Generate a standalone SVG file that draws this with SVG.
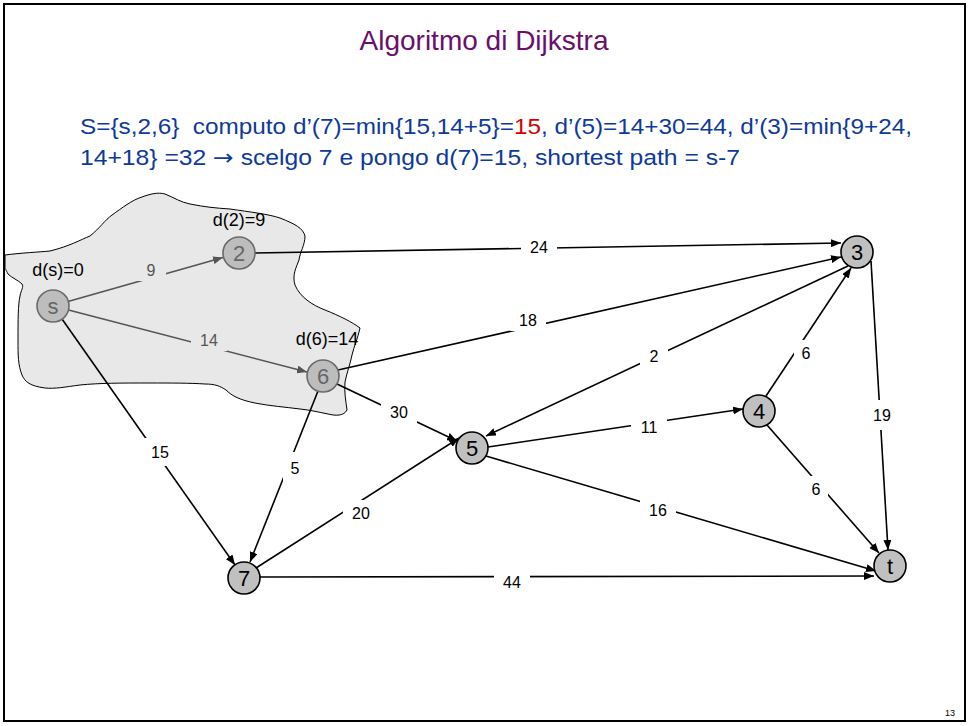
<svg xmlns="http://www.w3.org/2000/svg" width="969" height="726" viewBox="0 0 969 726">
<defs>
<marker id="ah" viewBox="0 0 10 8" refX="10" refY="4" markerWidth="10" markerHeight="8" markerUnits="userSpaceOnUse" orient="auto"><path d="M0,0 L10,4 L0,8 z" fill="#000"/></marker>
<marker id="ahg" viewBox="0 0 10 8" refX="10" refY="4" markerWidth="10" markerHeight="8" markerUnits="userSpaceOnUse" orient="auto"><path d="M0,0 L10,4 L0,8 z" fill="#555"/></marker>
<style>
text{font-family:"Liberation Sans",Arial,sans-serif}
.e{stroke:#000;stroke-width:1.6;fill:none;marker-end:url(#ah)}
.eg{stroke:#555;stroke-width:1.6;fill:none;marker-end:url(#ahg)}
.bg{fill:#ffffff;stroke:none}
.bgg{fill:#e8e8e8;stroke:none}
.lb{font-size:16px;text-anchor:middle;dominant-baseline:central;fill:#000}
.lbg{font-size:16px;text-anchor:middle;dominant-baseline:central;fill:#555}
.n circle{fill:#c0c0c0;stroke:#000;stroke-width:1.6}
.n text{font-size:22px;text-anchor:middle;dominant-baseline:central;fill:#000}
.g circle{fill:#bdbdbd;stroke:#6a6a6a;stroke-width:1.6}
.g text{font-size:22px;text-anchor:middle;dominant-baseline:central;fill:#666}
.d{font-size:18px;text-anchor:middle;fill:#000}
.body{font-size:22px;fill:#0d3a9c}
</style>
</defs>
<rect width="969" height="726" fill="#fff"/>
<rect x="4" y="4" width="961" height="717" fill="none" stroke="#000" stroke-width="2"/>
<text x="484" y="50" font-size="28" text-anchor="middle" fill="#6b0f6b">Algoritmo di Dijkstra</text>
<text class="body" x="80" y="134" textLength="832" lengthAdjust="spacingAndGlyphs">S={s,2,6}&#160; computo d’(7)=min{15,14+5}=<tspan fill="#d40000">15</tspan>, d’(5)=14+30=44, d’(3)=min{9+24,</text>
<text class="body" x="80" y="165" textLength="660" lengthAdjust="spacingAndGlyphs">14+18} =32 <tspan font-family="DejaVu Sans">→</tspan> scelgo 7 e pongo d(7)=15, shortest path = s-7</text>

<path id="blob" d="M5,255 C20,253 40,252 50,251 C70,246 80,240 90,236 C100,228 105,220 112,215 C122,208 132,200 142,197 C150,194 158,192 165,194 C175,198 180,202 190,204 C205,207 215,208 230,209 C250,212 268,214 280,218 C295,224 303,228 305,236 C305,245 300,252 299,260 C296,268 292,275 295,285 C300,297 312,305 325,310 C340,316 352,322 360,328 C358,338 354,346 352,355 C350,365 347,372 345,382 C344,392 346,402 347,410 C344,416 336,416 328,414 C318,412 310,410 300,409 C285,407 270,406 255,403 C240,400 232,396 226,390 C220,386 215,384 205,384 C190,383 170,383 150,383 C120,383 100,383 80,385 C65,387 55,389 45,388 C30,386 25,382 22,375 C18,365 18,355 18,340 C18,320 18,305 20,296 C21,290 24,287 22,284 C18,280 12,278 8,274 C6,270 5,268 5,268 Z" fill="#e8e8e8" stroke="#000" stroke-width="1"/>

<g id="edges">
<line class="eg" x1="68" y1="301.5" x2="223" y2="257.5"/>
<line class="eg" x1="68.5" y1="310" x2="307" y2="372"/>
<line class="e" x1="62" y1="319" x2="235" y2="565"/>
<line class="e" x1="255" y1="253" x2="841" y2="243"/>
<line class="e" x1="338" y1="370" x2="841" y2="257"/>
<line class="e" x1="848" y1="266" x2="486" y2="436"/>
<line class="e" x1="766" y1="396" x2="851" y2="268"/>
<line class="e" x1="871" y1="261" x2="888" y2="550"/>
<line class="e" x1="337" y1="384" x2="457" y2="441"/>
<line class="e" x1="318" y1="391" x2="250" y2="562"/>
<line class="e" x1="488" y1="447" x2="743" y2="409"/>
<line class="e" x1="767" y1="425" x2="879" y2="553"/>
<line class="e" x1="486" y1="456" x2="876" y2="571"/>
<line class="e" x1="256" y1="568" x2="459" y2="438"/>
<line class="e" x1="260" y1="577" x2="874" y2="576"/>
<rect class="bgg" x="136" y="259" width="30" height="22"/>
<rect class="bgg" x="191" y="329" width="36" height="22"/>
<rect class="bg" x="142" y="438" width="36" height="28"/>
<rect class="bg" x="521" y="236" width="36" height="22"/>
<rect class="bg" x="510" y="309" width="36" height="22"/>
<rect class="bg" x="381" y="399" width="36" height="26"/>
<rect class="bg" x="283" y="452" width="24" height="32"/>
<rect class="bg" x="640" y="344" width="28" height="24"/>
<rect class="bg" x="794" y="340" width="24" height="26"/>
<rect class="bg" x="866" y="400" width="32" height="30"/>
<rect class="bg" x="631" y="416" width="36" height="22"/>
<rect class="bg" x="804" y="476" width="24" height="26"/>
<rect class="bg" x="640" y="499" width="36" height="22"/>
<rect class="bg" x="343" y="500" width="36" height="26"/>
<rect class="bg" x="494" y="571" width="36" height="22"/>
<text class="lbg" x="151" y="270">9</text>
<text class="lbg" x="209" y="340">14</text>
<text class="lb" x="160" y="452">15</text>
<text class="lb" x="539" y="247">24</text>
<text class="lb" x="528" y="320">18</text>
<text class="lb" x="399" y="412">30</text>
<text class="lb" x="295" y="468">5</text>
<text class="lb" x="654" y="356">2</text>
<text class="lb" x="806" y="353">6</text>
<text class="lb" x="882" y="415">19</text>
<text class="lb" x="649" y="427">11</text>
<text class="lb" x="816" y="489">6</text>
<text class="lb" x="658" y="510">16</text>
<text class="lb" x="361" y="513">20</text>
<text class="lb" x="512" y="582">44</text>
</g>

<g id="node-s" class="g"><circle cx="53" cy="306" r="16"/><text x="53" y="306">s</text></g>
<g id="node-2" class="g"><circle cx="239" cy="253" r="16"/><text x="239" y="253">2</text></g>
<g id="node-6" class="g"><circle cx="323" cy="376" r="16"/><text x="323" y="376">6</text></g>
<g id="node-3" class="n"><circle cx="857" cy="252" r="16"/><text x="857" y="252">3</text></g>
<g id="node-4" class="n"><circle cx="759" cy="411" r="16"/><text x="759" y="411">4</text></g>
<g id="node-5" class="n"><circle cx="472" cy="448" r="16"/><text x="472" y="448">5</text></g>
<g id="node-7" class="n"><circle cx="244" cy="578" r="16"/><text x="244" y="578">7</text></g>
<g id="node-t" class="n"><circle cx="890" cy="566" r="16"/><text x="890" y="566">t</text></g>

<text class="d" x="58" y="276">d(s)=0</text>
<text class="d" x="239" y="226">d(2)=9</text>
<text class="d" x="327" y="345">d(6)=14</text>
<text x="950" y="716" font-size="9" text-anchor="middle">13</text>
</svg>
